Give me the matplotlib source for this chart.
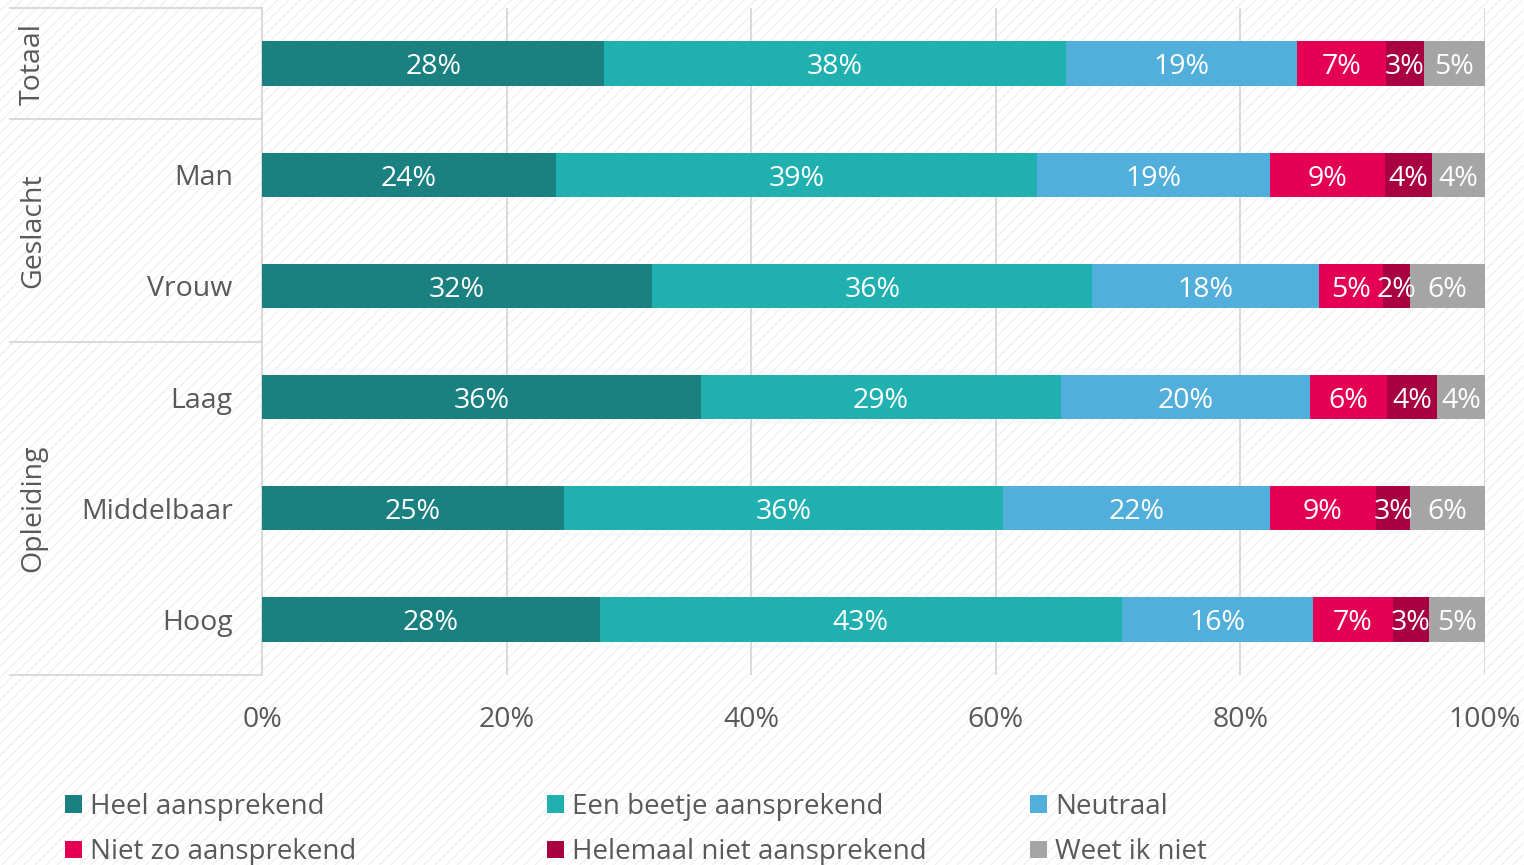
"""Stacked horizontal bar chart: how appealing, by total / gender / education."""

import matplotlib
matplotlib.use("Agg")
import matplotlib.pyplot as plt
import numpy as np
from matplotlib.patches import Patch, Rectangle
from matplotlib.transforms import blended_transform_factory

# --- data -------------------------------------------------------------------
rows = ["Totaal", "Man", "Vrouw", "Laag", "Middelbaar", "Hoog"]
groups = ["Totaal", "Geslacht", "Opleiding"]
group_spans = [(0, 0), (1, 2), (3, 5)]  # first and last row index per group

series = [
    "Heel aansprekend",
    "Een beetje aansprekend",
    "Neutraal",
    "Niet zo aansprekend",
    "Helemaal niet aansprekend",
    "Weet ik niet",
]
heel = [28.0, 24.0, 31.9, 35.9, 24.7, 27.6]
beetje = [37.7, 39.4, 36.0, 29.4, 35.9, 42.7]
neutraal = [18.9, 19.0, 18.5, 20.4, 21.8, 15.6]
niet_zo = [7.3, 9.4, 5.3, 6.3, 8.7, 6.6]
helemaal_niet = [3.1, 3.9, 2.2, 4.1, 2.8, 2.9]
weet_niet = [5.0, 4.3, 6.1, 3.9, 6.1, 4.6]

xticks = [0, 20, 40, 60, 80, 100]
xtick_labels = ["0%", "20%", "40%", "60%", "80%", "100%"]

colors = ["#1a8080", "#20b0b0", "#52afdb", "#e40052", "#a80040", "#a5a5a5"]

# --- style ------------------------------------------------------------------
plt.rcParams["font.family"] = ["Open Sans", "DejaVu Sans"]
plt.rcParams["hatch.color"] = "#efefef"
plt.rcParams["hatch.linewidth"] = 0.8
GRID = "#d9d9d9"
TEXT = "#595959"
FS = 20.5

fig = plt.figure(figsize=(15.24, 8.65), dpi=100)
fig.patches.append(
    Rectangle((0, 0), 1, 1, transform=fig.transFigure, facecolor="white",
              edgecolor="#efefef", hatch="///", linewidth=0, zorder=-10)
)

W, H = 1524, 865
ax = fig.add_axes([262 / W, 1 - 675 / H, (1485 - 262) / W, (675 - 8) / H])
ax.set_facecolor("none")

values = np.array([heel, beetje, neutraal, niet_zo, helemaal_niet, weet_niet])
y = np.arange(len(rows))
left = np.zeros(len(rows))
for name, vals, color in zip(series, values, colors):
    ax.barh(y, vals, left=left, height=0.4, color=color, label=name, zorder=3)
    for yi, l, v in zip(y, left, vals):
        ax.text(l + v / 2, yi + 0.035, f"{v:.0f}%", ha="center", va="center",
                color="white", fontsize=FS, zorder=4)
    left += vals

ax.set_xlim(0, 100)
ax.set_ylim(5.5, -0.5)
ax.set_xticks(xticks)
ax.set_xticklabels(xtick_labels, fontsize=FS, color=TEXT)
ax.set_yticks(y)
ax.set_yticklabels(["", "Man", "Vrouw", "Laag", "Middelbaar", "Hoog"],
                   fontsize=FS, color=TEXT)
ax.tick_params(axis="x", length=0, pad=22)
ax.tick_params(axis="y", length=0, pad=21)
ax.grid(axis="x", color=GRID, linewidth=1.4, zorder=0)
for side in ["top", "right", "bottom"]:
    ax.spines[side].set_visible(False)
ax.spines["left"].set_color(GRID)
ax.spines["left"].set_linewidth(1.4)

# group separators and group labels
trans = blended_transform_factory(ax.transAxes, ax.transData)
x_left = (10 - 262) / (1485 - 262)
for b in [-0.5, 0.5, 2.5, 5.5]:
    ax.plot([x_left, 0], [b, b], color=GRID, linewidth=1.4,
            transform=trans, clip_on=False)
x_grp = (33 - 262) / (1485 - 262)
for name, (a, b) in zip(groups, group_spans):
    ax.text(x_grp, (a + b) / 2, name, rotation=90, ha="center", va="center",
            fontsize=FS, color=TEXT, transform=trans)

# legend: three columns placed at fixed positions, two entries each
handles = [Patch(facecolor=c, edgecolor="none") for c in colors]
for col, x_px in enumerate([65, 547, 1030]):
    fig.legend(
        [handles[col], handles[col + 3]], [series[col], series[col + 3]],
        loc="upper left", bbox_to_anchor=(x_px / W, 1 - 793 / H),
        frameon=False, fontsize=20, labelcolor=TEXT,
        handlelength=0.6, handleheight=0.6, handletextpad=0.3,
        labelspacing=0.62, borderaxespad=0, borderpad=0,
    )

fig.savefig("out.png", dpi=100)
